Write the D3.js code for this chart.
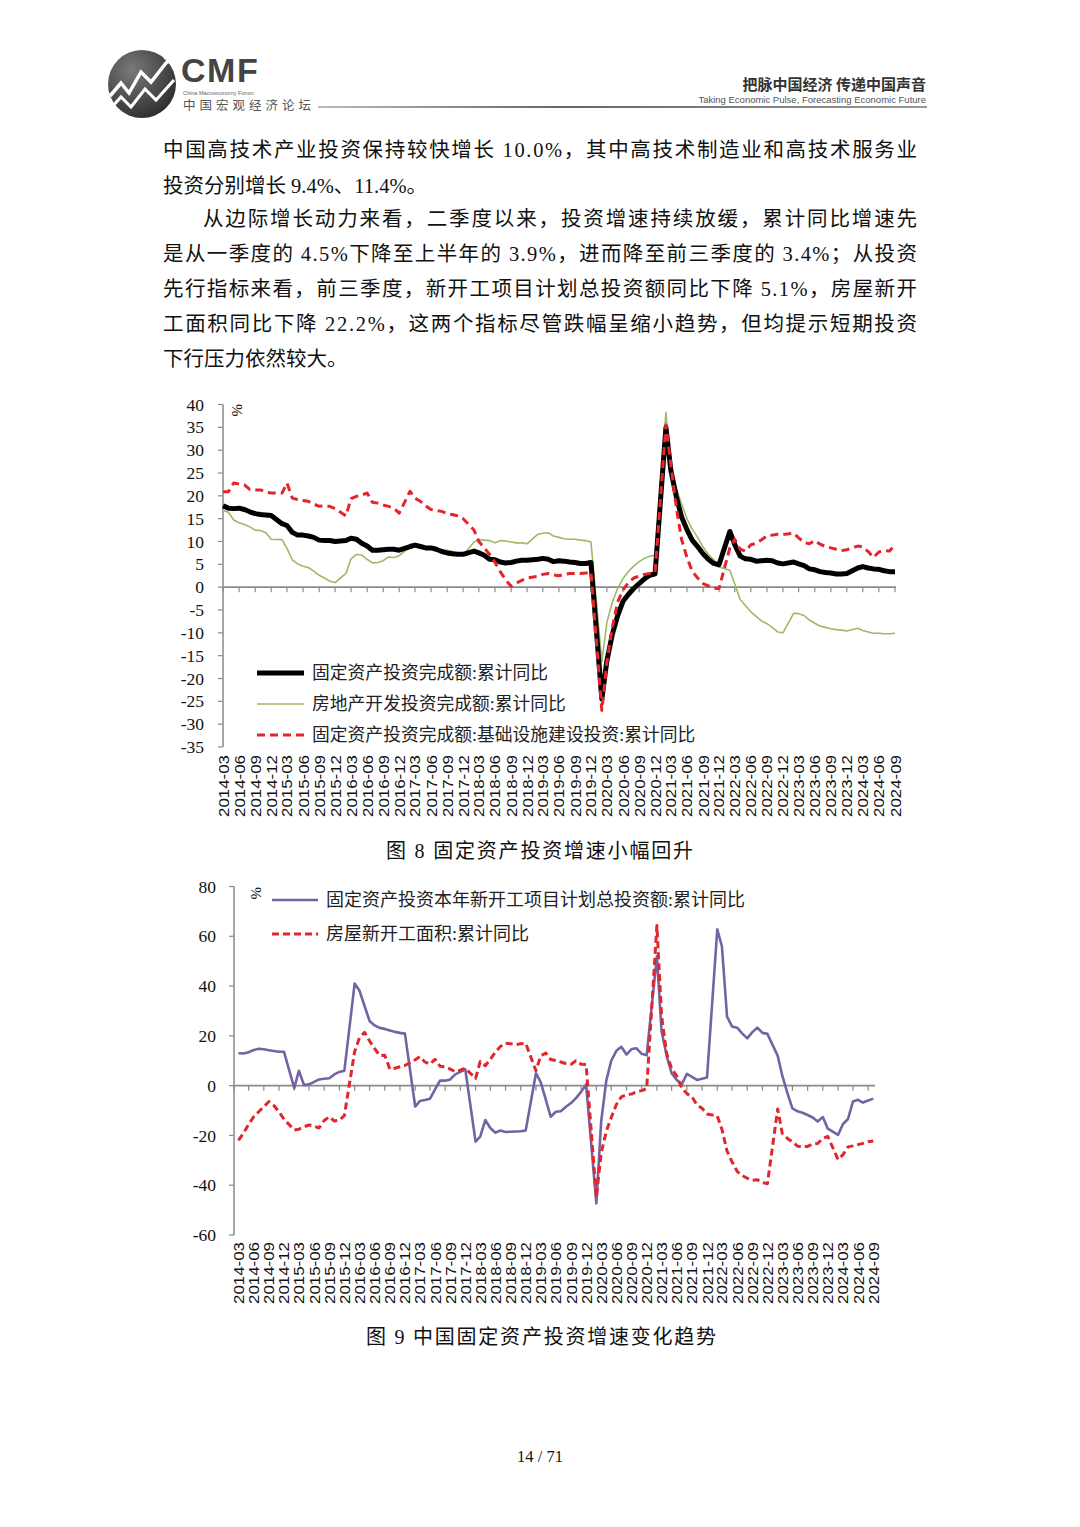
<!DOCTYPE html>
<html lang="zh">
<head>
<meta charset="UTF-8">
<title>固定资产投资增速</title>
<script src="https://cdn.jsdelivr.net/npm/d3@7/dist/d3.min.js"></script>
<style>
  body { margin: 0; background: #fff; }
  svg { display: block; }
  .cn { font-family: "Liberation Serif", "Noto Sans CJK SC", serif; }
  .num { font-family: "Liberation Serif", "Times New Roman", serif; }
  .tick { font-family: "Liberation Sans", Arial, sans-serif; }
</style>
</head>
<body>
<script>
// ---- data ----
// monthly cumulative YoY (%), Jan is not published so each year starts in Feb
const months = `
2014-03 2014-04 2014-05 2014-06 2014-07 2014-08 2014-09 2014-10 2014-11 2014-12
2015-02 2015-03 2015-04 2015-05 2015-06 2015-07 2015-08 2015-09 2015-10 2015-11 2015-12
2016-02 2016-03 2016-04 2016-05 2016-06 2016-07 2016-08 2016-09 2016-10 2016-11 2016-12
2017-02 2017-03 2017-04 2017-05 2017-06 2017-07 2017-08 2017-09 2017-10 2017-11 2017-12
2018-02 2018-03 2018-04 2018-05 2018-06 2018-07 2018-08 2018-09 2018-10 2018-11 2018-12
2019-02 2019-03 2019-04 2019-05 2019-06 2019-07 2019-08 2019-09 2019-10 2019-11 2019-12
2020-02 2020-03 2020-04 2020-05 2020-06 2020-07 2020-08 2020-09 2020-10 2020-11 2020-12
2021-02 2021-03 2021-04 2021-05 2021-06 2021-07 2021-08 2021-09 2021-10 2021-11 2021-12
2022-02 2022-03 2022-04 2022-05 2022-06 2022-07 2022-08 2022-09 2022-10 2022-11 2022-12
2023-02 2023-03 2023-04 2023-05 2023-06 2023-07 2023-08 2023-09 2023-10 2023-11 2023-12
2024-02 2024-03 2024-04 2024-05 2024-06 2024-07 2024-08 2024-09`.trim().split(/\s+/);

// 图8
const faiTotal = [
  17.8, 17.3, 17.2, 17.3, 17.0, 16.5, 16.1, 15.9, 15.8, 15.7,
  13.9, 13.5, 12.0, 11.4, 11.4, 11.2, 10.9, 10.3, 10.2, 10.2, 10.0,
  10.2, 10.7, 10.5, 9.6, 9.0, 8.1, 8.1, 8.2, 8.3, 8.3, 8.1,
  8.9, 9.2, 8.9, 8.6, 8.6, 8.3, 7.8, 7.5, 7.3, 7.2, 7.2,
  7.9, 7.5, 7.0, 6.1, 6.0, 5.5, 5.3, 5.4, 5.7, 5.9, 5.9,
  6.1, 6.3, 6.1, 5.6, 5.8, 5.7, 5.5, 5.4, 5.2, 5.2, 5.4,
  -24.5, -16.1, -10.3, -6.3, -3.1, -1.6, -0.3, 0.8, 1.8, 2.6, 2.9,
  35.0, 25.6, 19.9, 15.4, 12.6, 10.3, 8.9, 7.3, 6.1, 5.2, 4.9,
  12.2, 9.3, 6.8, 6.2, 6.1, 5.7, 5.8, 5.9, 5.8, 5.3, 5.1,
  5.5, 5.1, 4.7, 4.0, 3.8, 3.4, 3.2, 3.1, 2.9, 2.9, 3.0,
  4.2, 4.5, 4.2, 4.0, 3.9, 3.6, 3.4, 3.4
];
const realEstate = [
  16.8, 16.4, 14.7, 14.1, 13.7, 13.2, 12.5, 12.4, 11.9, 10.5,
  10.4, 8.5, 6.0, 5.1, 4.6, 4.3, 3.5, 2.6, 2.0, 1.3, 1.0,
  3.0, 6.2, 7.2, 7.0, 6.1, 5.3, 5.4, 5.8, 6.6, 6.5, 6.9,
  8.9, 9.1, 9.3, 8.8, 8.5, 7.9, 7.9, 8.1, 7.8, 7.5, 7.0,
  9.9, 10.4, 10.3, 10.2, 9.7, 10.2, 10.1, 9.9, 9.7, 9.7, 9.5,
  11.6, 11.8, 11.9, 11.2, 10.9, 10.6, 10.5, 10.5, 10.3, 10.2, 9.9,
  -16.3, -7.7, -3.3, -0.3, 1.9, 3.4, 4.6, 5.6, 6.3, 6.8, 7.0,
  38.3, 25.6, 21.6, 18.3, 15.0, 12.7, 10.9, 8.8, 7.2, 6.0, 4.4,
  3.7, 0.7, -2.7, -4.0, -5.4, -6.4, -7.4, -8.0, -8.8, -9.8, -10.0,
  -5.7, -5.8, -6.2, -7.2, -7.9, -8.5, -8.8, -9.1, -9.3, -9.4, -9.6,
  -9.0, -9.5, -9.8, -10.1, -10.1, -10.2, -10.2, -10.1
];
const infra = [
  20.9, 20.9, 22.8, 22.6, 22.4, 21.4, 21.3, 21.3, 20.8, 20.6,
  20.6, 22.8, 19.5, 19.2, 19.0, 18.8, 18.2, 17.7, 17.8, 17.7, 17.2,
  15.6, 19.4, 19.9, 20.2, 20.6, 18.6, 18.4, 18.0, 17.7, 17.3, 16.2,
  21.0, 19.5, 18.8, 17.8, 17.0, 16.8, 16.6, 16.1, 15.9, 15.6, 15.0,
  12.5, 10.0, 8.6, 7.2, 5.4, 3.4, 1.6, 0.2, 0.9, 1.5, 2.0,
  2.4, 2.8, 3.0, 2.7, 2.5, 2.8, 3.0, 3.0, 3.0, 3.1, 3.3,
  -27.0, -16.4, -8.8, -3.3, -0.6, 1.0, 2.0, 2.4, 2.8, 3.0, 3.2,
  35.5, 26.8, 17.5, 10.5, 6.5, 3.5, 2.0, 0.8, 0.3, -0.2, -0.3,
  8.6, 10.5, 8.3, 7.9, 9.3, 9.6, 10.4, 11.2, 11.4, 11.6, 11.5,
  11.8, 10.8, 9.8, 9.5, 10.2, 9.4, 8.9, 8.6, 8.3, 8.0, 8.2,
  9.0, 8.8, 7.8, 6.5, 7.7, 8.0, 7.9, 9.3
];

// 图9
const newProjects = [
  13.0, 12.9, 13.4, 14.3, 14.8, 14.6, 14.2, 13.9, 13.6, 13.6,
  -1.0, 6.0, 0.2, 0.5, 1.5, 2.5, 2.8, 3.0, 4.5, 5.5, 6.0,
  41.0, 38.2, 32.0, 26.0, 24.2, 23.2, 22.8, 22.2, 21.6, 21.2, 20.9,
  -8.4, -6.2, -5.8, -5.3, -1.5, 2.0, 2.0, 2.5, 4.5, 5.5, 6.5,
  -22.5, -20.5, -13.8, -17.0, -18.9, -18.0, -18.6, -18.5, -18.4, -18.3, -18.0,
  5.0, 1.5, -5.5, -12.5, -10.5, -10.3, -8.5, -7.0, -5.0, -2.5, 0.5,
  -47.3, -14.5, 2.0, 10.0, 14.0, 15.6, 12.5, 14.7, 15.0, 12.8, 12.2,
  52.0, 22.0, 12.0, 5.0, 2.3, 0.5, 4.7, 3.5, 2.3, 2.8, 3.3,
  62.8, 55.9, 27.7, 23.8, 23.3, 21.0, 19.0, 21.5, 23.3, 21.2, 20.8,
  12.0, 4.0, -3.0, -9.1, -10.3, -10.9, -11.8, -12.8, -14.4, -12.6, -17.3,
  -19.8, -15.5, -13.4, -6.4, -5.7, -6.8, -6.0, -5.2
];
const newStarts = [
  -22.0, -19.0, -15.5, -12.5, -10.5, -8.5, -6.4, -8.0, -10.5, -13.5,
  -17.8, -17.5, -16.5, -15.8, -16.3, -17.0, -14.0, -12.5, -14.2, -13.8, -12.0,
  13.7, 19.2, 21.4, 18.0, 14.9, 12.1, 12.2, 6.6, 7.0, 7.6, 8.1,
  10.4, 11.6, 9.5, 8.6, 10.6, 7.8, 7.6, 6.6, 5.6, 6.2, 7.0,
  2.9, 9.7, 8.0, 10.6, 13.5, 15.7, 17.0, 16.8, 16.5, 16.8, 17.0,
  6.0, 11.9, 13.1, 10.5, 10.1, 9.5, 8.9, 8.6, 10.0, 8.6, 8.5,
  -44.9, -27.2, -18.4, -12.8, -7.6, -4.5, -3.6, -3.4, -2.4, -2.0, -1.2,
  64.3, 28.2, 12.8, 6.9, 3.8, -0.9, -3.2, -4.5, -7.7, -9.1, -11.4,
  -12.2, -17.5, -26.3, -30.6, -34.4, -36.1, -37.2, -38.0, -37.8, -38.9, -39.4,
  -9.4, -19.2, -21.2, -22.6, -24.3, -24.5, -24.4, -23.4, -23.2, -21.2, -20.4,
  -29.7, -27.8, -24.6, -24.2, -23.7, -23.2, -22.5, -22.2
];

const quarterLabels = `
2014-03 2014-06 2014-09 2014-12 2015-03 2015-06 2015-09 2015-12 2016-03 2016-06 2016-09 2016-12
2017-03 2017-06 2017-09 2017-12 2018-03 2018-06 2018-09 2018-12 2019-03 2019-06 2019-09 2019-12
2020-03 2020-06 2020-09 2020-12 2021-03 2021-06 2021-09 2021-12 2022-03 2022-06 2022-09 2022-12
2023-03 2023-06 2023-09 2023-12 2024-03 2024-06 2024-09`.trim().split(/\s+/);

const yTicks1 = [40, 35, 30, 25, 20, 15, 10, 5, 0, -5, -10, -15, -20, -25, -30, -35];
const yTicks2 = [80, 60, 40, 20, 0, -20, -40, -60];

const legend1 = ["固定资产投资完成额:累计同比", "房地产开发投资完成额:累计同比", "固定资产投资完成额:基础设施建设投资:累计同比"];
const legend2 = ["固定资产投资本年新开工项目计划总投资额:累计同比", "房屋新开工面积:累计同比"];

const bodyLines = [
  "中国高技术产业投资保持较快增长 10.0%，其中高技术制造业和高技术服务业",
  "投资分别增长 9.4%、11.4%。",
  "从边际增长动力来看，二季度以来，投资增速持续放缓，累计同比增速先",
  "是从一季度的 4.5%下降至上半年的 3.9%，进而降至前三季度的 3.4%；从投资",
  "先行指标来看，前三季度，新开工项目计划总投资额同比下降 5.1%，房屋新开",
  "工面积同比下降 22.2%，这两个指标尽管跌幅呈缩小趋势，但均提示短期投资",
  "下行压力依然较大。"
];

// ---- page ----
const W = 1080, H = 1527;
const parse = d3.timeParse("%Y-%m");
const dates = months.map(parse);

const svg = d3.select("body").append("svg")
  .attr("width", W).attr("height", H)
  .attr("viewBox", [0, 0, W, H]);

svg.append("rect").attr("width", W).attr("height", H).attr("fill", "#fff");

// header / logo
const defs = svg.append("defs");
const rg = defs.append("radialGradient").attr("id", "logoGrad").attr("cx", "35%").attr("cy", "30%").attr("r", "75%");
rg.append("stop").attr("offset", "0%").attr("stop-color", "#7a7a7a");
rg.append("stop").attr("offset", "100%").attr("stop-color", "#2e2e2e");
const lg = defs.append("linearGradient").attr("id", "ruleGrad");
lg.append("stop").attr("offset", "0%").attr("stop-color", "#bbb");
lg.append("stop").attr("offset", "40%").attr("stop-color", "#666");
lg.append("stop").attr("offset", "100%").attr("stop-color", "#999");

const logo = svg.append("g");
logo.append("circle").attr("cx", 142).attr("cy", 84).attr("r", 34).attr("fill", "url(#logoGrad)");
const zig = d3.line();
logo.append("path").attr("d", zig([[110, 96], [121, 83], [129, 93], [141, 72], [151, 82], [170, 58]]))
  .attr("fill", "none").attr("stroke", "#fff").attr("stroke-width", 3.5).attr("stroke-linejoin", "miter");
logo.append("path").attr("d", zig([[164, 58], [171, 56], [170, 64]]))
  .attr("fill", "none").attr("stroke", "#fff").attr("stroke-width", 3);
logo.append("path").attr("d", zig([[110, 109], [121, 97], [131, 107], [145, 89], [156, 100], [174, 80]]))
  .attr("fill", "none").attr("stroke", "#fff").attr("stroke-width", 3);

svg.append("text").attr("x", 181).attr("y", 82)
  .attr("font-family", "Liberation Sans, Arial, sans-serif").attr("font-weight", "bold")
  .attr("font-size", 34).attr("fill", "#444").attr("letter-spacing", 1.5).text("CMF");
svg.append("text").attr("x", 183).attr("y", 95)
  .attr("font-family", "Liberation Sans, Arial, sans-serif").attr("font-size", 5.5).attr("fill", "#666")
  .text("China Macroeconomy Forum");
svg.append("text").attr("x", 183).attr("y", 110)
  .attr("font-family", "Noto Sans CJK SC, sans-serif").attr("font-size", 12.5).attr("fill", "#555")
  .attr("textLength", 128).text("中国宏观经济论坛");
svg.append("rect").attr("x", 318).attr("y", 106).attr("width", 609).attr("height", 2).attr("fill", "url(#ruleGrad)");
svg.append("text").attr("x", 926).attr("y", 90).attr("text-anchor", "end")
  .attr("font-family", "Noto Sans CJK SC, sans-serif").attr("font-weight", "bold")
  .attr("font-size", 15).attr("fill", "#333").text("把脉中国经济  传递中国声音");
svg.append("text").attr("x", 926).attr("y", 103).attr("text-anchor", "end")
  .attr("font-family", "Liberation Sans, Arial, sans-serif").attr("font-size", 9.5).attr("fill", "#555")
  .text("Taking Economic Pulse, Forecasting Economic Future");

// body text
const bodyLayout = [
  { x: 163, y: 157, w: 754 },
  { x: 163, y: 193 },
  { x: 203, y: 226, w: 714 },
  { x: 163, y: 261, w: 754 },
  { x: 163, y: 296, w: 754 },
  { x: 163, y: 331, w: 754 },
  { x: 163, y: 366 }
];
bodyLines.forEach((s, i) => {
  const t = svg.append("text").attr("class", "cn")
    .attr("x", bodyLayout[i].x).attr("y", bodyLayout[i].y)
    .attr("font-size", 20.5).attr("fill", "#111").text(s);
  if (bodyLayout[i].w) t.attr("textLength", bodyLayout[i].w).attr("lengthAdjust", "spacing");
});

// ---- chart helper ----
function drawChart(cfg) {
  const g = svg.append("g");
  const x = d3.scaleTime().domain([parse("2014-03"), parse("2024-09")]).range(cfg.xRange);
  const y = d3.scaleLinear().domain(cfg.yDomain).range(cfg.yRange);
  const axisColor = "#8a8a8a";

  // y axis
  g.append("line").attr("x1", cfg.yAxisX).attr("x2", cfg.yAxisX)
    .attr("y1", y(cfg.yDomain[1])).attr("y2", y(cfg.yDomain[0]))
    .attr("stroke", axisColor).attr("stroke-width", 1.5);
  g.selectAll(".yt").data(cfg.yTicks).join("line")
    .attr("x1", cfg.yAxisX - 5).attr("x2", cfg.yAxisX)
    .attr("y1", d => y(d)).attr("y2", d => y(d))
    .attr("stroke", axisColor).attr("stroke-width", 1.2);
  g.selectAll(".yl").data(cfg.yTicks).join("text").attr("class", "num")
    .attr("x", cfg.yAxisX - cfg.yLabelGap).attr("y", d => y(d))
    .attr("dy", "0.35em").attr("text-anchor", "end")
    .attr("font-size", 17.5).attr("fill", "#111").text(d => d);

  // x axis at zero
  const y0 = y(0);
  g.append("line").attr("x1", cfg.yAxisX).attr("x2", cfg.xAxisEnd)
    .attr("y1", y0).attr("y2", y0).attr("stroke", axisColor).attr("stroke-width", 1.6);
  g.selectAll(".xt").data(quarterLabels).join("line")
    .attr("x1", d => x(d3.timeMonth.offset(parse(d), cfg.tickShift)))
    .attr("x2", d => x(d3.timeMonth.offset(parse(d), cfg.tickShift)))
    .attr("y1", y0).attr("y2", y0 + 5)
    .attr("stroke", axisColor).attr("stroke-width", 1.2);
  g.selectAll(".xl").data(quarterLabels).join("text").attr("class", "tick")
    .attr("transform", d => `translate(${x(parse(d)) + 5.5},${cfg.labelTop}) rotate(-90)`)
    .attr("text-anchor", "end").attr("font-size", 15).attr("fill", "#111")
    .attr("textLength", 62).attr("lengthAdjust", "spacingAndGlyphs")
    .text(d => d);

  // % unit
  g.append("text").attr("class", "num")
    .attr("transform", `translate(${cfg.pct[0]},${cfg.pct[1]}) rotate(90)`)
    .attr("font-size", 15).attr("fill", "#111").text("%");

  // series
  cfg.series.forEach(s => {
    const line = d3.line().x((d, i) => x(dates[i])).y(d => y(d));
    g.append("path").datum(s.values)
      .attr("d", line).attr("fill", "none")
      .attr("stroke", s.color).attr("stroke-width", s.width)
      .attr("stroke-dasharray", s.dash || null)
      .attr("stroke-linejoin", "round");
  });

  // legend
  cfg.legend.forEach((l, i) => {
    const ly = cfg.legendY[i];
    g.append("line").attr("x1", cfg.legendX[0]).attr("x2", cfg.legendX[1])
      .attr("y1", ly).attr("y2", ly)
      .attr("stroke", l.color).attr("stroke-width", l.width)
      .attr("stroke-dasharray", l.dash || null);
    g.append("text").attr("class", "cn")
      .attr("x", cfg.legendX[1] + 8).attr("y", ly).attr("dy", "0.36em")
      .attr("font-size", cfg.legendSize).attr("fill", "#222").text(l.name);
  });
}

const black = { color: "#000", width: 5 };
const green = { color: "#9fb866", width: 1.6 };
const red1 = { color: "#e2262c", width: 3, dash: "8,5" };
const purple = { color: "#7463a4", width: 2.6 };
const red2 = { color: "#e2262c", width: 3, dash: "7,4" };

drawChart({
  xRange: [223, 895], yDomain: [-35, 40], yRange: [747, 404.5],
  yAxisX: 223, xAxisEnd: 896, yTicks: yTicks1, yLabelGap: 19, tickShift: 0,
  labelTop: 755, pct: [232, 404],
  series: [
    Object.assign({ values: realEstate }, green),
    Object.assign({ values: faiTotal }, black),
    Object.assign({ values: infra }, red1)
  ],
  legend: [
    Object.assign({ name: legend1[0] }, black),
    Object.assign({ name: legend1[1] }, green),
    Object.assign({ name: legend1[2] }, red1)
  ],
  legendX: [257, 304], legendY: [673, 704, 735], legendSize: 17.8
});

drawChart({
  xRange: [238.5, 873.3], yDomain: [-60, 80], yRange: [1235, 886.5],
  yAxisX: 234, xAxisEnd: 875, yTicks: yTicks2, yLabelGap: 18, tickShift: -1,
  labelTop: 1242, pct: [251, 887],
  series: [
    Object.assign({ values: newProjects }, purple),
    Object.assign({ values: newStarts }, red2)
  ],
  legend: [
    Object.assign({ name: legend2[0] }, purple),
    Object.assign({ name: legend2[1] }, red2)
  ],
  legendX: [272, 318], legendY: [900, 934], legendSize: 18
});

// captions and page number
svg.append("text").attr("class", "cn").attr("x", 386).attr("y", 858)
  .attr("font-size", 20).attr("fill", "#111")
  .attr("textLength", 307).attr("lengthAdjust", "spacing")
  .text("图 8  固定资产投资增速小幅回升");
svg.append("text").attr("class", "cn").attr("x", 366).attr("y", 1344)
  .attr("font-size", 20).attr("fill", "#111")
  .attr("textLength", 350).attr("lengthAdjust", "spacing")
  .text("图 9  中国固定资产投资增速变化趋势");
svg.append("text").attr("class", "num").attr("x", 540).attr("y", 1462)
  .attr("text-anchor", "middle").attr("font-size", 16.5).attr("fill", "#111")
  .text("14 / 71");
</script>
</body>
</html>
